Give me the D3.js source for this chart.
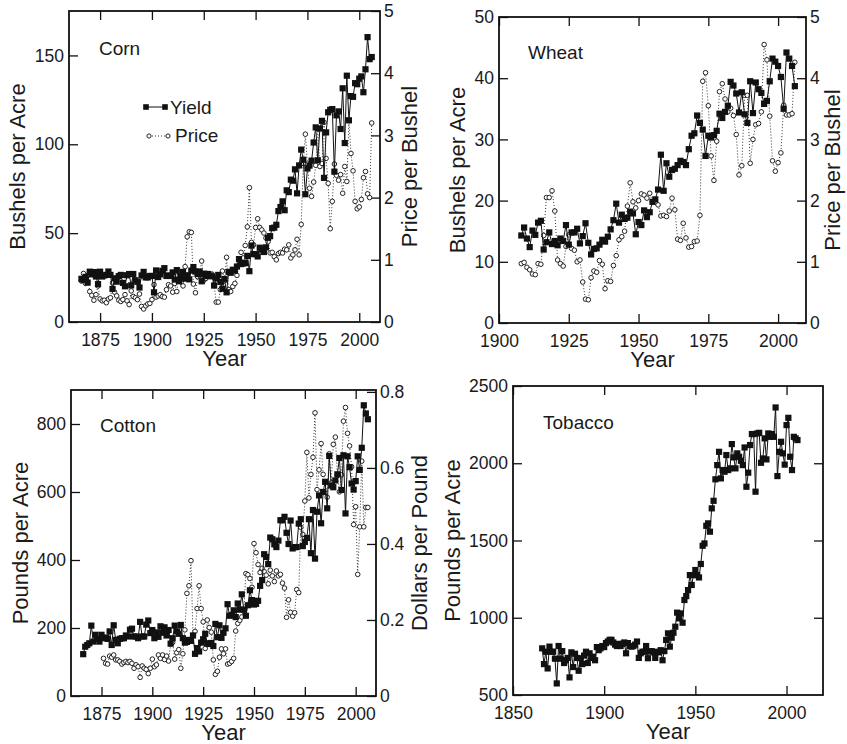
<!DOCTYPE html>
<html>
<head>
<meta charset="utf-8">
<script src="https://cdn.jsdelivr.net/npm/d3@7"></script>
<style>
  body { margin: 0; background: #fff; }
  text { font-family: "Liberation Sans", Arial, Helvetica, sans-serif; fill: #1a1a1a; }
</style>
</head>
<body>
<svg id="chart" width="847" height="744"></svg>
<script>
// ---- Corn (1866-2006) ----
const cornStart = 1866;
const cornYield = [
  24.3, 23.6, 25.4, 22.2, 28.3, 26.8, 28.1, 25.6, 21.3, 28.3,
  25.6, 26.2, 26.5, 28.4, 26.5, 18.6, 24.6, 22.7, 25.8, 26.5,
  22.0, 20.1, 26.3, 27.0, 20.6, 27.0, 23.5, 22.6, 19.4, 26.2,
  28.2, 25.1, 25.1, 25.9, 25.9, 16.7, 29.0, 25.3, 26.8, 28.8,
  30.3, 25.9, 26.2, 25.9, 27.9, 23.9, 29.2, 23.1, 25.8, 28.2,
  24.4, 26.3, 24.0, 28.9, 30.9, 28.4, 27.0, 28.4, 22.9, 27.2,
  25.8, 27.0, 26.1, 25.7, 20.5, 24.5, 26.5, 22.6, 18.7, 24.2,
  16.7, 28.2, 27.7, 29.4, 28.9, 31.2, 35.4, 32.6, 33.0, 33.1,
  37.2, 28.6, 43.0, 38.2, 38.2, 36.9, 41.8, 40.7, 39.4, 42.0,
  47.4, 48.3, 52.8, 53.1, 54.7, 62.4, 64.7, 67.9, 62.9, 74.1,
  73.1, 80.1, 79.5, 85.9, 72.4, 88.1, 97.0, 91.3, 71.9, 86.4,
  88.0, 90.8, 101.0, 109.5, 91.0, 108.9, 113.2, 81.1, 106.7, 118.0,
  119.4, 119.8, 84.6, 116.3, 118.5, 108.6, 131.5, 100.7, 138.6, 113.5,
  127.1, 126.7, 134.4, 133.8, 136.9, 138.2, 129.3, 142.2, 160.3, 147.9, 149.1
];
const cornPrice = [
  0.66, 0.78, 0.62, 0.75, 0.49, 0.43, 0.35, 0.44, 0.58, 0.37,
  0.34, 0.35, 0.31, 0.37, 0.39, 0.63, 0.48, 0.42, 0.35, 0.33,
  0.36, 0.44, 0.34, 0.28, 0.50, 0.41, 0.39, 0.36, 0.45, 0.25,
  0.21, 0.26, 0.29, 0.30, 0.36, 0.60, 0.40, 0.42, 0.44, 0.41,
  0.40, 0.52, 0.60, 0.58, 0.48, 0.62, 0.49, 0.69, 0.64, 0.58,
  0.89, 1.37, 1.45, 1.44, 0.61, 0.47, 0.73, 0.75, 0.98, 0.67,
  0.70, 0.78, 0.77, 0.77, 0.60, 0.32, 0.32, 0.52, 0.82, 0.66,
  1.04, 0.52, 0.49, 0.57, 0.62, 0.75, 0.92, 1.12, 1.03, 1.23,
  1.53, 2.16, 1.28, 1.24, 1.52, 1.66, 1.52, 1.48, 1.43, 1.35,
  1.29, 1.11, 1.12, 1.05, 1.00, 1.10, 1.12, 1.11, 1.17, 1.16,
  1.24, 1.03, 1.08, 1.16, 1.33, 1.08, 1.57, 2.55, 3.02, 2.54,
  2.15, 2.02, 2.25, 2.52, 3.11, 2.50, 2.55, 3.21, 2.63, 2.23,
  1.50, 1.94, 2.54, 2.36, 2.28, 2.37, 2.07, 2.50, 2.26, 3.24,
  2.71, 2.43, 1.94, 1.82, 1.85, 1.97, 2.32, 2.42, 2.06, 2.00, 3.20
];

// ---- Wheat (1908-2006) ----
const wheatStart = 1908;
const wheatYield = [
  14.3, 15.6, 13.8, 12.4, 15.1, 14.4, 16.4, 16.7, 12.0, 13.2,
  14.8, 12.9, 13.4, 12.7, 13.8, 13.4, 16.0, 12.8, 14.8, 14.8,
  15.4, 13.0, 14.2, 16.3, 13.1, 11.2, 12.1, 12.2, 12.8, 13.6,
  13.3, 14.1, 15.3, 16.8, 19.5, 16.4, 17.7, 17.0, 17.2, 18.2,
  17.9, 14.5, 16.5, 16.0, 18.4, 17.3, 18.1, 19.8, 20.2, 21.8,
  27.5, 21.6, 26.1, 23.9, 25.0, 25.2, 25.8, 26.5, 26.3, 25.8,
  28.4, 30.6, 31.0, 33.9, 32.7, 31.6, 27.3, 30.6, 30.3, 30.7,
  31.4, 34.2, 33.5, 34.5, 35.5, 39.4, 38.8, 37.5, 34.4, 37.7,
  34.1, 32.7, 39.5, 34.3, 39.3, 38.2, 37.6, 35.8, 36.3, 39.5,
  43.2, 42.7, 42.0, 40.2, 35.0, 44.2, 43.2, 42.0, 38.7
];
const wheatPrice = [
  0.97, 0.99, 0.91, 0.87, 0.80, 0.79, 0.97, 0.96, 1.43, 2.05,
  2.05, 2.16, 1.83, 1.03, 0.97, 0.93, 1.25, 1.44, 1.22, 1.19,
  1.00, 1.03, 0.67, 0.39, 0.38, 0.74, 0.85, 0.83, 1.02, 0.96,
  0.56, 0.69, 0.68, 0.94, 1.10, 1.36, 1.41, 1.50, 1.91, 2.29,
  1.98, 1.88, 2.00, 2.11, 2.09, 2.04, 2.12, 1.98, 1.97, 1.93,
  1.75, 1.76, 1.74, 1.83, 2.04, 1.85, 1.37, 1.35, 1.63, 1.39,
  1.24, 1.25, 1.33, 1.34, 1.76, 3.95, 4.09, 3.55, 2.73, 2.33,
  2.97, 3.78, 3.91, 3.66, 3.45, 3.51, 3.39, 3.08, 2.42, 2.57,
  3.72, 3.72, 2.61, 3.00, 3.24, 3.26, 3.45, 4.55, 4.30, 3.38,
  2.65, 2.48, 2.62, 2.78, 3.56, 3.40, 3.40, 3.42, 4.26
];

// ---- Cotton (yield 1866-2006, price 1876-2006) ----
const cottonStart = 1866;
const cottonYield = [
  123, 145, 150, 155, 207, 160, 180, 168, 160, 180,
  170, 172, 168, 190, 150, 208, 165, 155, 168, 170,
  170, 178, 175, 195, 198, 175, 175, 170, 218, 175,
  175, 210, 222, 185, 194, 170, 187, 174, 205, 186,
  202, 178, 194, 154, 170, 207, 190, 183, 209, 170,
  157, 159, 165, 162, 178, 124, 141, 131, 157, 167,
  183, 155, 153, 156, 147, 212, 173, 208, 171, 186,
  199, 270, 236, 238, 252, 232, 272, 254, 299, 254,
  236, 267, 311, 282, 269, 271, 280, 324, 341, 417,
  409, 388, 466, 461, 446, 438, 457, 517, 517, 527,
  480, 447, 516, 434, 438, 438, 507, 520, 441, 453,
  465, 520, 420, 547, 404, 542, 590, 508, 600, 630,
  552, 706, 619, 614, 634, 652, 700, 606, 708, 537,
  705, 673, 625, 607, 632, 705, 665, 730, 855, 831, 814
];
const cottonPriceStart = 1876;
const cottonPrice = [
  0.099, 0.086, 0.084, 0.105, 0.102, 0.108, 0.095, 0.095, 0.091, 0.084,
  0.088, 0.091, 0.088, 0.091, 0.086, 0.073, 0.082, 0.077, 0.049, 0.079,
  0.073, 0.070, 0.059, 0.073, 0.097, 0.077, 0.082, 0.108, 0.099, 0.108,
  0.096, 0.105, 0.092, 0.137, 0.141, 0.097, 0.114, 0.122, 0.073, 0.111,
  0.174, 0.270, 0.290, 0.356, 0.160, 0.170, 0.230, 0.290, 0.230, 0.195,
  0.125, 0.200, 0.180, 0.168, 0.095, 0.057, 0.065, 0.102, 0.124, 0.111,
  0.124, 0.084, 0.086, 0.091, 0.099, 0.171, 0.191, 0.199, 0.208, 0.226,
  0.322, 0.319, 0.309, 0.286, 0.401, 0.377, 0.346, 0.325, 0.336, 0.327,
  0.318, 0.295, 0.331, 0.316, 0.301, 0.329, 0.316, 0.320, 0.297, 0.284,
  0.207, 0.253, 0.220, 0.210, 0.219, 0.280, 0.272, 0.444, 0.425, 0.513,
  0.641, 0.521, 0.583, 0.628, 0.745, 0.543, 0.595, 0.664, 0.583, 0.563,
  0.523, 0.637, 0.561, 0.662, 0.681, 0.580, 0.537, 0.582, 0.723, 0.759,
  0.691, 0.658, 0.603, 0.451, 0.498, 0.320, 0.445, 0.618, 0.445, 0.496, 0.496
];

// ---- Tobacco (1866-2006) ----
const tobaccoStart = 1866;
const tobaccoYield = [
  802, 700, 780, 672, 813, 780, 780, 735, 575, 817,
  735, 784, 707, 725, 740, 614, 776, 681, 767, 740,
  657, 738, 700, 755, 780, 707, 770, 740, 748, 725,
  810, 790, 802, 817, 810, 836, 846, 857, 857, 840,
  826, 817, 831, 817, 831, 840, 770, 836, 817, 813,
  817, 826, 846, 740, 770, 780, 780, 817, 738, 784,
  784, 776, 740, 780, 776, 790, 725, 784, 856, 899,
  813, 871, 903, 942, 1033, 996, 1028, 968, 1115, 1140,
  1179, 1276, 1212, 1276, 1309, 1276, 1261, 1348, 1466, 1481,
  1595, 1611, 1557, 1708, 1757, 1896, 1988, 2074, 1902, 1956,
  1945, 2053, 1956, 1967, 2124, 2038, 1967, 2064, 2042, 2016,
  1988, 2102, 1848, 1939, 2118, 2189, 2189, 1816, 2193, 2197,
  2003, 2031, 2161, 2025, 2193, 2171, 2189, 2171, 2361, 1917,
  2074, 2139, 2064, 1991, 2247, 2294, 2042, 1956, 2171, 2161, 2150
];

// ---- Tick values ----
const cornYearTicks = [1875, 1900, 1925, 1950, 1975, 2000];
const cornYieldTicks = [0, 50, 100, 150];
const cornPriceTicks = [0, 1, 2, 3, 4, 5];
const wheatYearTicks = [1900, 1925, 1950, 1975, 2000];
const wheatYieldTicks = [0, 10, 20, 30, 40, 50];
const wheatPriceTicks = [0, 1, 2, 3, 4, 5];
const cottonYearTicks = [1875, 1900, 1925, 1950, 1975, 2000];
const cottonYieldTicks = [0, 200, 400, 600, 800];
const cottonPriceTicks = [0, 0.2, 0.4, 0.6, 0.8];
const tobaccoYearTicks = [1850, 1900, 1950, 2000];
const tobaccoYieldTicks = [500, 1000, 1500, 2000, 2500];
const tobaccoRightTicks = [1000, 1500, 2000];

const toSeries = (start, vals) => vals.map((v, i) => ({ year: start + i, v }));

const svg = d3.select("#chart");
const TICK_FONT = "17.5px", TITLE_FONT = "22px", NAME_FONT = "19px";
const SQ = 6.2, CR = 2.3;

function styleAxis(g) {
  g.select(".domain").remove();
  g.attr("font-family", null).attr("font-size", null);
  g.selectAll(".tick line").attr("stroke", "#111").attr("stroke-width", 1.3);
  g.selectAll(".tick text").style("font-size", TICK_FONT).attr("fill", "#1a1a1a");
}

function drawPanel(p) {
  const g = svg.append("g");
  const x = d3.scaleLinear().domain(p.xDomain).range([p.l, p.r]);
  const y = d3.scaleLinear().domain(p.yDomain).range([p.b, p.t]);
  const y2 = p.y2Domain ? d3.scaleLinear().domain(p.y2Domain).range([p.b, p.t]) : null;

  // axes with inward ticks on all four sides
  g.append("g").attr("transform", `translate(0,${p.b})`)
    .call(d3.axisBottom(x).tickValues(p.xTicks).tickSize(-9).tickPadding(11.5).tickFormat(d3.format("d")))
    .call(styleAxis);
  g.append("g").attr("transform", `translate(0,${p.t})`)
    .call(d3.axisTop(x).tickValues(p.xTicks).tickSize(-9).tickFormat(""))
    .call(styleAxis);
  g.append("g").attr("transform", `translate(${p.l},0)`)
    .call(d3.axisLeft(y).tickValues(p.yTicks).tickSize(-9).tickPadding(5).tickFormat(d3.format("d")))
    .call(styleAxis);
  if (y2) {
    g.append("g").attr("transform", `translate(${p.r},0)`)
      .call(d3.axisRight(y2).tickValues(p.y2Ticks).tickSize(-9).tickPadding(4).tickFormat(d => d === 0 ? "0" : String(d)))
      .call(styleAxis);
  } else {
    g.append("g").attr("transform", `translate(${p.r},0)`)
      .call(d3.axisRight(y).tickValues(p.rightTicks).tickSize(-9).tickFormat(""))
      .call(styleAxis);
  }

  // frame
  g.append("rect").attr("x", p.l).attr("y", p.t)
    .attr("width", p.r - p.l).attr("height", p.b - p.t)
    .attr("fill", "none").attr("stroke", "#111").attr("stroke-width", 1.8);

  // price series: dotted line + open circles
  if (p.price) {
    const line2 = d3.line().x(d => x(d.year)).y(d => y2(d.v));
    g.append("path").datum(p.price).attr("d", line2)
      .attr("fill", "none").attr("stroke", "#333").attr("stroke-width", 1)
      .attr("stroke-dasharray", "1,2");
    g.append("g").selectAll("circle").data(p.price).join("circle")
      .attr("cx", d => x(d.year)).attr("cy", d => y2(d.v)).attr("r", CR)
      .attr("fill", "#fff").attr("stroke", "#222").attr("stroke-width", 1);
  }

  // yield series: solid line + filled squares
  const line1 = d3.line().x(d => x(d.year)).y(d => y(d.v));
  g.append("path").datum(p.yield).attr("d", line1)
    .attr("fill", "none").attr("stroke", "#111").attr("stroke-width", 1);
  g.append("g").selectAll("rect").data(p.yield).join("rect")
    .attr("x", d => x(d.year) - SQ / 2).attr("y", d => y(d.v) - SQ / 2)
    .attr("width", SQ).attr("height", SQ).attr("fill", "#111");

  // titles
  g.append("text").attr("x", (p.l + p.r) / 2).attr("y", p.b + 44)
    .attr("text-anchor", "middle").style("font-size", TITLE_FONT).text("Year");
  g.append("text").attr("transform", `translate(${p.leftTitleX},${(p.t + p.b) / 2}) rotate(-90)`)
    .attr("text-anchor", "middle").style("font-size", TITLE_FONT).text(p.leftTitle);
  if (p.rightTitle) {
    g.append("text").attr("transform", `translate(${p.rightTitleX},${(p.t + p.b) / 2}) rotate(-90)`)
      .attr("text-anchor", "middle").style("font-size", TITLE_FONT).text(p.rightTitle);
  }
  g.append("text").attr("x", p.nameX).attr("y", p.nameY)
    .style("font-size", NAME_FONT).text(p.name);
  return g;
}

// Corn
const cornG = drawPanel({
  l: 69, r: 380, t: 11, b: 322,
  xDomain: [1860, 2010], yDomain: [0, 175], y2Domain: [0, 5],
  xTicks: cornYearTicks, yTicks: cornYieldTicks, y2Ticks: cornPriceTicks,
  yield: toSeries(cornStart, cornYield), price: toSeries(cornStart, cornPrice),
  leftTitle: "Bushels per Acre", leftTitleX: 25,
  rightTitle: "Price per Bushel", rightTitleX: 417,
  name: "Corn", nameX: 99, nameY: 55
});

// Corn legend
const lg = cornG.append("g");
lg.append("line").attr("x1", 146).attr("x2", 165).attr("y1", 107).attr("y2", 107)
  .attr("stroke", "#111").attr("stroke-width", 1);
[146, 165].forEach(cx => lg.append("rect").attr("x", cx - 2.8).attr("y", 107 - 2.8)
  .attr("width", 5.6).attr("height", 5.6).attr("fill", "#111"));
lg.append("text").attr("x", 170).attr("y", 114).style("font-size", NAME_FONT).text("Yield");
lg.append("line").attr("x1", 149).attr("x2", 168).attr("y1", 136).attr("y2", 136)
  .attr("stroke", "#333").attr("stroke-width", 1).attr("stroke-dasharray", "1,2");
[149, 168].forEach(cx => lg.append("circle").attr("cx", cx).attr("cy", 136).attr("r", 2.1)
  .attr("fill", "#fff").attr("stroke", "#222").attr("stroke-width", 1));
lg.append("text").attr("x", 175).attr("y", 142).style("font-size", NAME_FONT).text("Price");

// Wheat
drawPanel({
  l: 499, r: 806, t: 17, b: 323,
  xDomain: [1900, 2010], yDomain: [0, 50], y2Domain: [0, 5],
  xTicks: wheatYearTicks, yTicks: wheatYieldTicks, y2Ticks: wheatPriceTicks,
  yield: toSeries(wheatStart, wheatYield), price: toSeries(wheatStart, wheatPrice),
  leftTitle: "Bushels per Acre", leftTitleX: 465,
  rightTitle: "Price per Bushel", rightTitleX: 840,
  name: "Wheat", nameX: 528, nameY: 59
});

// Cotton
drawPanel({
  l: 71, r: 376, t: 390, b: 696,
  xDomain: [1860, 2010], yDomain: [0, 900], y2Domain: [0, 0.805],
  xTicks: cottonYearTicks, yTicks: cottonYieldTicks, y2Ticks: cottonPriceTicks,
  yield: toSeries(cottonStart, cottonYield), price: toSeries(cottonPriceStart, cottonPrice),
  leftTitle: "Pounds per Acre", leftTitleX: 28,
  rightTitle: "Dollars per Pound", rightTitleX: 427,
  name: "Cotton", nameX: 100, nameY: 432
});

// Tobacco
drawPanel({
  l: 513, r: 823, t: 386, b: 695,
  xDomain: [1850, 2020], yDomain: [500, 2500],
  xTicks: tobaccoYearTicks, yTicks: tobaccoYieldTicks, rightTicks: tobaccoRightTicks,
  yield: toSeries(tobaccoStart, tobaccoYield),
  leftTitle: "Pounds per Acre", leftTitleX: 460,
  name: "Tobacco", nameX: 543, nameY: 429
});
</script>
</body>
</html>
